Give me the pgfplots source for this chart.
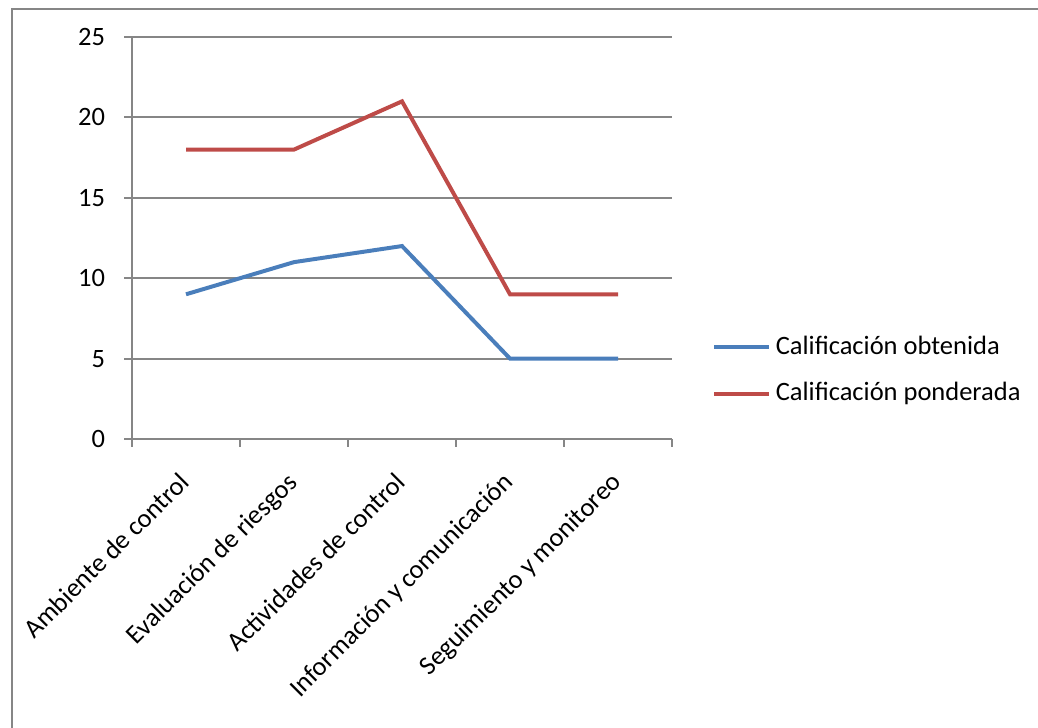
\documentclass[border=0pt]{standalone}
\usepackage{pgfplots}
\pgfplotsset{compat=1.18}
\usepackage{fontspec}
\setmainfont{Carlito}
\definecolor{cblue}{HTML}{4A7EBB}
\definecolor{cred}{HTML}{BE4B48}
\definecolor{cgrid}{HTML}{868686}
\begin{document}
\begin{tikzpicture}
\begin{axis}[
  scale only axis, width=203.8pt, height=151.7pt,
  xmin=0, xmax=5, ymin=0, ymax=25,
  axis lines*=left,
  axis line style={cgrid, line width=0.75pt},
  ymajorgrids, grid style={cgrid, line width=0.75pt},
  ytick={0,5,...,25},
  xtick={0,1,...,5}, xticklabels={},
  extra x ticks={0.5,1.5,2.5,3.5,4.5},
  extra x tick labels={Ambiente de control,Evaluación de riesgos,Actividades de control,Información y comunicación,Seguimiento y monitoreo},
  extra x tick style={major tick length=0pt, grid=none,
     xticklabel style={rotate=45, anchor=north east, inner sep=0pt, xshift=-10.56pt, yshift=-6.04pt}},
  tick align=outside, major tick length=3pt,
  tick style={cgrid, line width=0.75pt},
  ticklabel style={font=\fontsize{10}{12}\selectfont, text=black},
  yticklabel style={inner sep=0pt, xshift=-7pt},
  /pgf/number format/assume math mode=true,
  legend style={at={(1.074,0.1704)}, anchor=west, draw=none, fill=none, inner sep=0pt,
     font=\fontsize{10}{12}\selectfont, row sep=5pt,
     legend cell align=left},
  legend image code/.code={\draw[#1, line width=1.5pt] (0,0) -- (20.4pt,0);},
  clip=false,
]
\addplot[cblue, line width=1.5pt] coordinates {(0.5,9) (1.5,11) (2.5,12) (3.5,5) (4.5,5)};
\addlegendentry{Calificación obtenida}
\addplot[cred, line width=1.5pt] coordinates {(0.5,18) (1.5,18) (2.5,21) (3.5,9) (4.5,9)};
\addlegendentry{Calificación ponderada}
\end{axis}
\useasboundingbox (-49.82pt,-109.07pt) rectangle (341.92pt,165.68pt);
\draw[cgrid, line width=0.9pt] (-45.29pt,-109.07pt) -- (-45.29pt,162.28pt) -- (341.92pt,162.28pt);
\end{tikzpicture}
\end{document}
